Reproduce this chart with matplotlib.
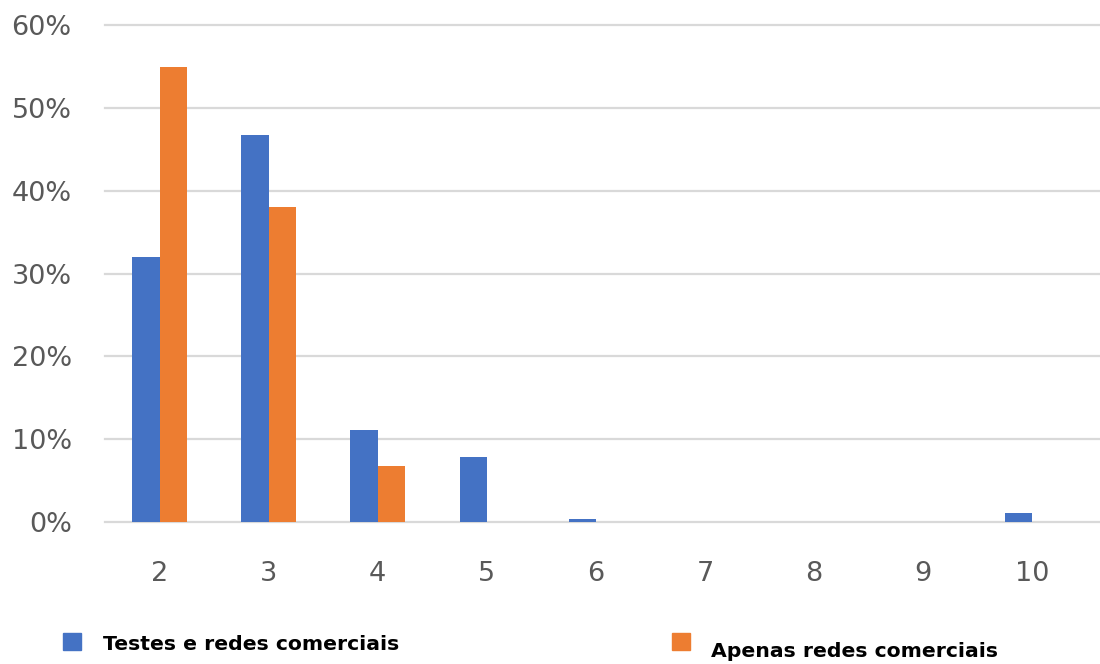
import matplotlib
matplotlib.use("Agg")
import matplotlib.pyplot as plt
from matplotlib.patches import Rectangle
from matplotlib.ticker import FuncFormatter, MultipleLocator
import numpy as np

# Number of networks per node (categories) and share of cases (%)
categories = [2, 3, 4, 5, 6, 7, 8, 9, 10]
testes_redes = [32.0, 46.7, 11.1, 7.9, 0.4, 0.0, 0.0, 0.0, 1.1]
apenas_redes = [54.9, 38.0, 6.8, 0.0, 0.0, 0.0, 0.0, 0.0, 0.0]
series_names = ["Testes e redes comerciais", "Apenas redes comerciais"]

BLUE = "#4472C4"
ORANGE = "#ED7D31"
TICK_COLOR = "#595959"
GRID_COLOR = "#D9D9D9"

fig = plt.figure(figsize=(11, 6.64), dpi=100)
ax = fig.add_axes([105 / 1100, 1 - 522 / 664, (1100 - 105) / 1100, (522 - 25) / 664])

x = np.array(categories, dtype=float)
w = 0.25
ax.bar(x - w / 2, testes_redes, width=w, color=BLUE, zorder=3)
ax.bar(x + w / 2, apenas_redes, width=w, color=ORANGE, zorder=3)

ax.set_ylim(0, 60)
ax.set_xlim(1.5, 10.62)
ax.yaxis.set_major_locator(MultipleLocator(10))
ax.yaxis.set_major_formatter(FuncFormatter(lambda v, _: f"{v:.0f}%"))
ax.set_xticks(categories)
ax.set_xticklabels([str(c) for c in categories])

ax.grid(axis="y", color=GRID_COLOR, linewidth=1.6, zorder=0)
for gl in ax.get_ygridlines():
    gl.set_clip_on(False)
ax.set_axisbelow(True)
for s in ax.spines.values():
    s.set_visible(False)
ax.tick_params(axis="both", length=0, labelsize=19.5, colors=TICK_COLOR)
ax.tick_params(axis="y", pad=24)
ax.tick_params(axis="x", pad=28)

# Legend drawn as two separate entries beneath the plot
fig.add_artist(Rectangle((63 / 1100, 1 - 650 / 664), 18 / 1100, 17 / 664,
                         transform=fig.transFigure, color=BLUE))
fig.text(103 / 1100, 1 - 650 / 664, series_names[0], fontsize=14.7,
         fontweight="bold", color="black", va="baseline", ha="left")
fig.add_artist(Rectangle((672 / 1100, 1 - 650 / 664), 18 / 1100, 17 / 664,
                         transform=fig.transFigure, color=ORANGE))
fig.text(711 / 1100, 1 - 657 / 664, series_names[1], fontsize=14.7,
         fontweight="bold", color="black", va="baseline", ha="left")

fig.savefig("out.png", dpi=100, facecolor="white")
